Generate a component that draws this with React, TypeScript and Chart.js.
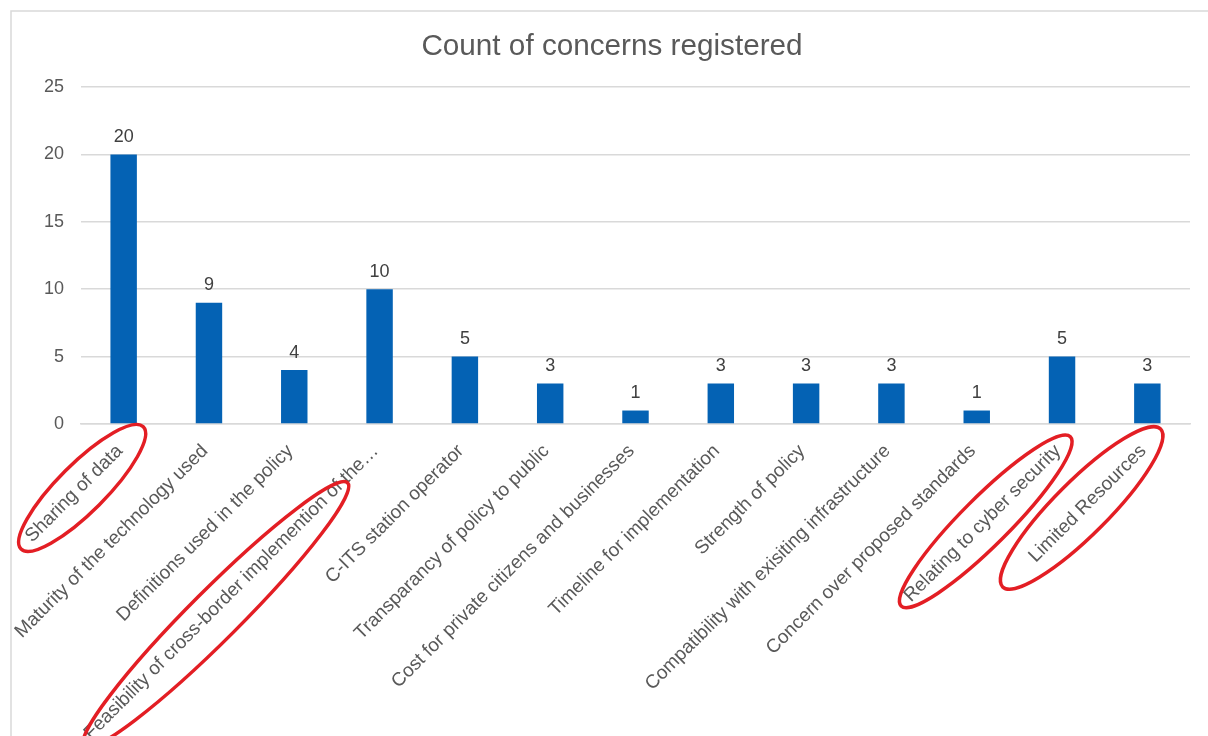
import React, { useEffect, useRef } from 'react';
import { Chart, registerables } from 'chart.js';

Chart.register(...registerables);

const categories: string[] = [
  'Sharing of data',
  'Maturity of the technology used',
  'Definitions used in the policy',
  'Feasibility of cross-border implemention of the\u2026',
  'C-ITS station operator',
  'Transparancy of policy to public',
  'Cost for private citizens and businesses',
  'Timeline for implementation',
  'Strength of policy',
  'Compatibility with exisiting infrastructure',
  'Concern over proposed standards',
  'Relating to cyber security',
  'Limited Resources',
];

const counts: number[] = [20, 9, 4, 10, 5, 3, 1, 3, 3, 3, 1, 5, 3];

const yTickValues: number[] = [0, 5, 10, 15, 20, 25];

const titleText = 'Count of concerns registered';

// indices of the labels circled in red
const circledLabels: number[] = [0, 3, 11, 12];

const FONT = '"Liberation Sans", Arial, Helvetica, sans-serif';
const TEXT_GRAY = '#595959';
const GRID = '#D9D9D9';
const BAR = '#0462B4';
const TICK_SIZE = 18;
const XLABEL_SIZE = 19;
const XLABEL_PAD = 16;
const XLABEL_OFFSET = -4;

// ellipse shape per circled label: s0 = start along label (from its end), s1extra = beyond label start,
// ry = half thickness, perp = shift across the label (towards upper-left)
const ellipseShapes: Record<number, { s0: number; s1extra: number; ry: number; perp: number }> = {
  0: { s0: -26, s1extra: 18, ry: 24, perp: 4 },
  3: { s0: 50, s1extra: 15, ry: 25, perp: 1 },
  11: { s0: -11, s1extra: 15, ry: 24, perp: 5 },
  12: { s0: -20, s1extra: 46, ry: 27, perp: 7 },
};

const frame = {
  id: 'frame',
  beforeDraw(chart: any) {
    const { ctx } = chart;
    ctx.save();
    ctx.fillStyle = '#ffffff';
    ctx.fillRect(0, 0, chart.width, chart.height);
    ctx.strokeStyle = GRID;
    ctx.lineWidth = 1.5;
    ctx.beginPath();
    ctx.moveTo(11, chart.height);
    ctx.lineTo(11, 11);
    ctx.lineTo(chart.width, 11);
    ctx.stroke();
    // title
    ctx.font = `29.7px ${FONT}`;
    ctx.fillStyle = TEXT_GRAY;
    ctx.textAlign = 'center';
    ctx.textBaseline = 'alphabetic';
    ctx.fillText(titleText, 612, 55);
    ctx.restore();
  },
};

const valueLabels = {
  id: 'valueLabels',
  afterDatasetsDraw(chart: any) {
    const { ctx } = chart;
    const meta = chart.getDatasetMeta(0);
    ctx.save();
    ctx.font = `${TICK_SIZE}px ${FONT}`;
    ctx.fillStyle = '#404040';
    ctx.textAlign = 'center';
    ctx.textBaseline = 'alphabetic';
    meta.data.forEach((bar: any, i: number) => {
      ctx.fillText(String(counts[i]), bar.x, bar.y - 12.5);
    });
    ctx.restore();
  },
};

const circles = {
  id: 'circles',
  afterDraw(chart: any) {
    const { ctx } = chart;
    const xs = chart.scales.x;
    const ang = Math.PI / 4;
    const ux = -Math.cos(ang);
    const uy = Math.sin(ang);
    const px = -Math.SQRT1_2;
    const py = -Math.SQRT1_2;
    const half = (XLABEL_SIZE * 1.2) / 2;
    ctx.save();
    ctx.font = `${XLABEL_SIZE}px ${FONT}`;
    ctx.strokeStyle = '#E31E24';
    ctx.lineWidth = 3.5;
    circledLabels.forEach((idx) => {
      const shape = ellipseShapes[idx];
      const L = ctx.measureText(categories[idx]).width;
      const ex = xs.getPixelForValue(idx) + XLABEL_OFFSET + Math.SQRT1_2 * half;
      const ey = xs.top + XLABEL_PAD + Math.SQRT1_2 * half;
      const s0 = shape.s0;
      const s1 = L + shape.s1extra;
      const mid = (s0 + s1) / 2;
      const cx = ex + ux * mid + px * shape.perp;
      const cy = ey + uy * mid + py * shape.perp;
      const rx = (s1 - s0) / 2;
      ctx.beginPath();
      ctx.ellipse(cx, cy, rx, shape.ry, -ang, 0, Math.PI * 2);
      ctx.stroke();
    });
    ctx.restore();
  },
};

export default function App() {
  const ref = useRef<HTMLCanvasElement | null>(null);

  useEffect(() => {
    if (!ref.current) return;
    const chart = new Chart(ref.current, {
      type: 'bar',
      data: {
        labels: categories,
        datasets: [
          {
            label: 'Count',
            data: counts,
            backgroundColor: BAR,
            borderWidth: 0,
            barPercentage: 1,
            categoryPercentage: 0.31,
          },
        ],
      },
      options: {
        animation: false,
        responsive: false,
        layout: { padding: { top: 87, left: 0, right: 18, bottom: 0 } },
        plugins: {
          legend: { display: false },
          tooltip: { enabled: false },
          title: { display: false },
        },
        scales: {
          x: {
            grid: { display: false, drawTicks: false },
            border: { display: true, color: GRID, width: 1.5 },
            ticks: {
              color: TEXT_GRAY,
              font: { family: FONT, size: XLABEL_SIZE },
              minRotation: 45,
              maxRotation: 45,
              autoSkip: false,
              padding: XLABEL_PAD,
              labelOffset: XLABEL_OFFSET,
            },
            afterFit(scale: any) {
              scale.height = 312;
            },
          },
          y: {
            min: 0,
            max: 25,
            afterBuildTicks(scale: any) {
              scale.ticks = yTickValues.map((v) => ({ value: v }));
            },
            grid: { color: GRID, lineWidth: 1.5, drawTicks: false },
            border: { display: false },
            ticks: {
              color: TEXT_GRAY,
              font: { family: FONT, size: TICK_SIZE },
              padding: 17,
            },
            afterFit(scale: any) {
              scale.width = 81;
            },
          },
        },
      },
      plugins: [frame, valueLabels, circles],
    });
    return () => chart.destroy();
  }, []);

  return (
    <div style={{ position: 'absolute', left: 0, top: 0, width: 1208, height: 736 }}>
      <canvas ref={ref} width={1208} height={736} style={{ display: 'block' }} />
    </div>
  );
}
